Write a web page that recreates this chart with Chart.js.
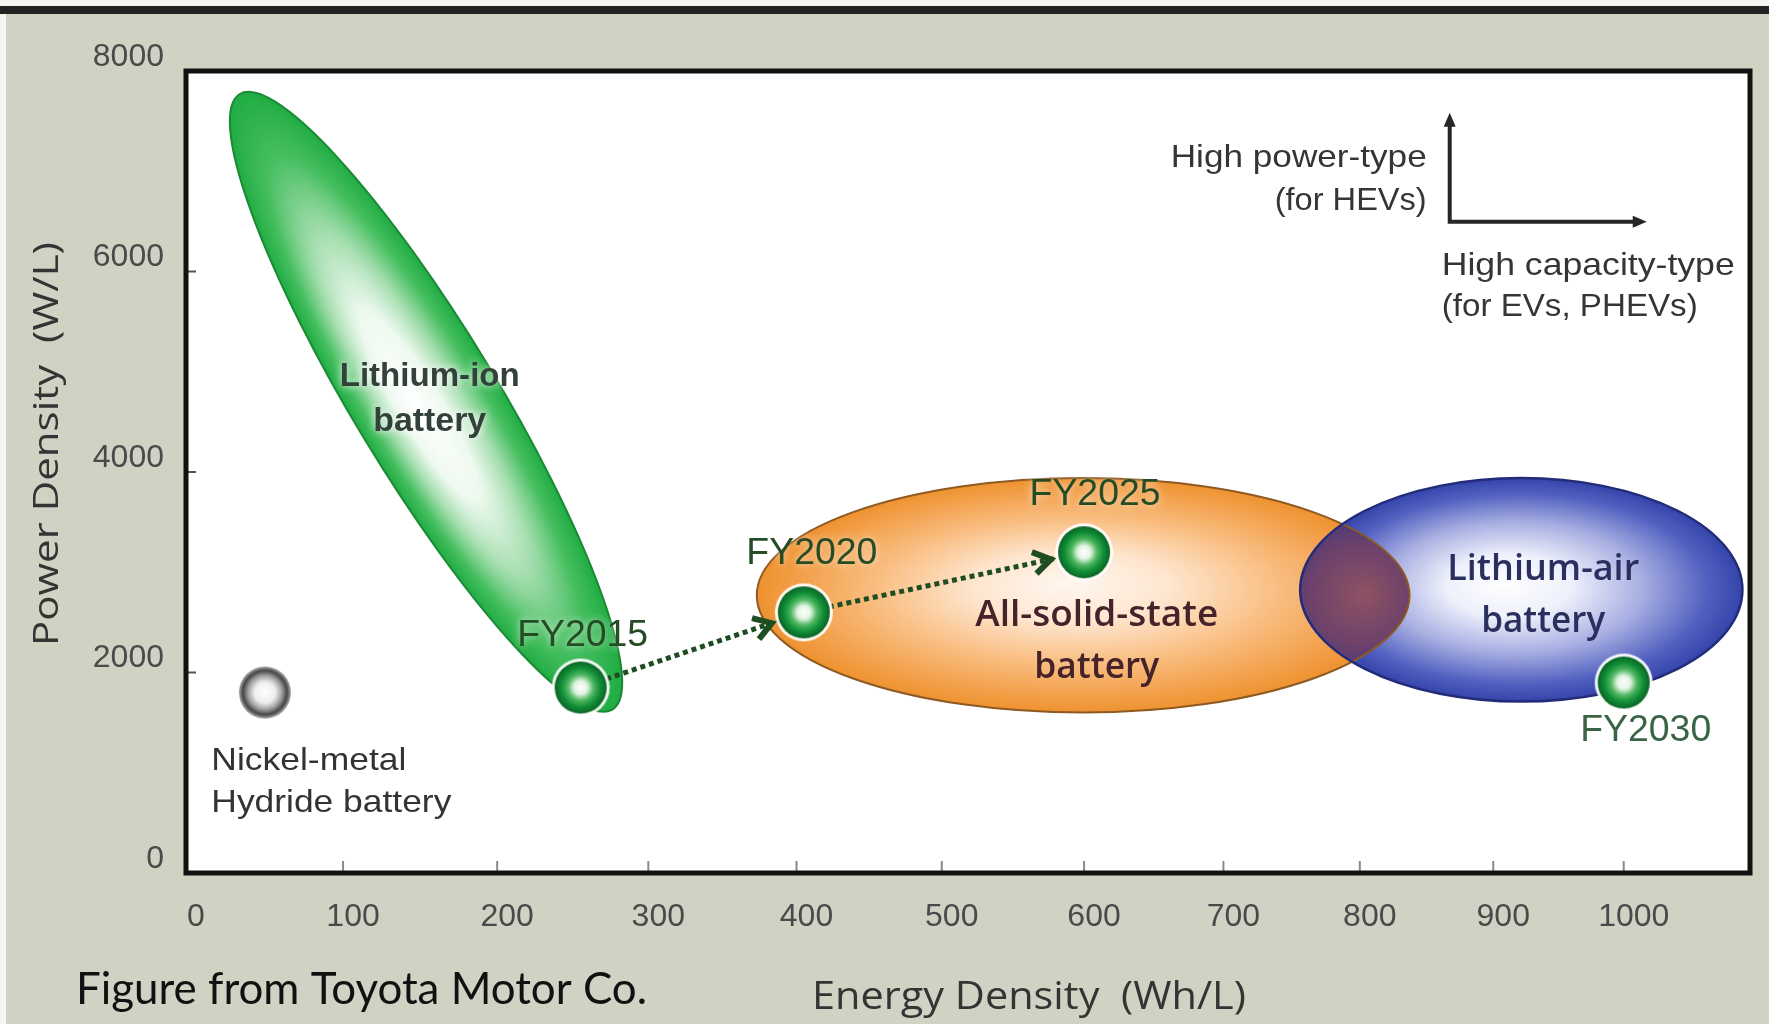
<!DOCTYPE html>
<html>
<head>
<meta charset="utf-8">
<title>Battery energy density vs power density</title>
<script src="https://cdn.jsdelivr.net/npm/chart.js"></script>
<style>
  html, body { margin: 0; padding: 0; background: #cfd3c3; overflow: hidden; }
  canvas { display: block; }
</style>
</head>
<body>
<canvas id="chart" width="1769" height="1024"></canvas>
<script>
// ---- data -------------------------------------------------------------
const xTicks = [0, 100, 200, 300, 400, 500, 600, 700, 800, 900, 1000]; // Wh/L
const yTicks = [0, 2000, 4000, 6000, 8000];                           // W/L
const xMax = 1099;
const yMax = 8000;

// roadmap milestones (energy Wh/L, power W/L)
const milestones = ['FY2015', 'FY2020', 'FY2025', 'FY2030'];
const milestoneEnergy = [255, 405, 600, 1000];
const milestonePower = [1850, 2600, 3200, 1900];
const roadmapSteps = 3; // FY2015 -> FY2020 -> FY2025 joined by arrows

// nickel-metal hydride cell
const nimhEnergy = [50];
const nimhPower = [1800];

// technology regions
const liIonAxisEnergy = [34, 276];   // long-axis end points of the tilted region
const liIonAxisPower = [7770, 1630];
const liIonAspect = 0.2;             // minor / major axis
const solidStateEnergy = [373, 837];
const solidStatePower = [1600, 3940];
const liAirEnergy = [756, 1093];
const liAirPower = [1710, 3940];

// region captions, anchored in data space (energy, power per line)
const captionLiIon = { lines: ['Lithium-ion', 'battery'], x: 156, y: [4950, 4500] };
const captionNimh = { lines: ['Nickel-metal', 'Hydride battery'], x: 16, y: [1120, 700] };
const captionSolid = { lines: ['All-solid-state', 'battery'], x: 609, y: [2570, 2050] };
const captionLiAir = { lines: ['Lithium-air', 'battery'], x: 938, y: [3020, 2510] };

// ---- styling ----------------------------------------------------------
const X_WARP = 0.114;              // gently compressed energy axis (quadratic)
const milestoneLabelDx = [2, 8, 11, 22];
const milestoneLabelDy = [-51, -58, -57, 49];
const milestoneLabelColor = ['#264c25', '#264c25', '#264c25', '#3a6445'];

// energy axis: pixel decimal = (1 + k) t - k t^2, t = linear fraction of the range
class WarpScale extends Chart.LinearScale {
  getPixelForValue(value) {
    if (value === null || value === undefined || isNaN(value)) return NaN;
    const t = (value - this._startValue) / this._valueRange;
    return this.getPixelForDecimal((1 + X_WARP) * t - X_WARP * t * t);
  }
  getValueForPixel(pixel) {
    const d = this.getDecimalForPixel(pixel);
    const k = X_WARP;
    const t = ((1 + k) - Math.sqrt((1 + k) * (1 + k) - 4 * k * d)) / (2 * k);
    return this._startValue + t * this._valueRange;
  }
}
WarpScale.id = 'warp';
WarpScale.defaults = Chart.LinearScale.defaults;
Chart.register(WarpScale);

// glossy round markers used as point styles
function makeMarker(r, ring, stops) {
  const c = document.createElement('canvas');
  const s = Math.ceil((r + ring) * 2 + 4);
  c.width = c.height = s;
  const g = c.getContext('2d');
  const m = s / 2;
  if (ring) {
    g.beginPath();
    g.arc(m, m, r + ring, 0, Math.PI * 2);
    g.fillStyle = 'rgba(255,255,255,0.92)';
    g.fill();
  }
  const grad = g.createRadialGradient(m, m, 0, m, m, r);
  stops.forEach(([o, col]) => grad.addColorStop(o, col));
  g.beginPath();
  g.arc(m, m, r, 0, Math.PI * 2);
  g.fillStyle = grad;
  g.fill();
  return c;
}
const greenMarker = makeMarker(26, 3, [
  [0, '#ffffff'], [0.25, '#e3f5e3'], [0.5, '#4fb660'], [0.74, '#129038'], [1, '#0a6425']
]);
const greyMarker = makeMarker(26, 0, [
  [0, '#ffffff'], [0.4, '#eeeeee'], [0.65, '#a0a0a0'], [0.85, '#454545'], [1, 'rgba(90,90,90,0.55)']
]);

// ---- drawing helpers ---------------------------------------------------
function drawText(ctx, text, x, y, o) {
  ctx.save();
  ctx.font = o.font;
  ctx.fillStyle = o.color;
  ctx.textBaseline = 'middle';
  ctx.textAlign = o.align || 'center';
  const w0 = ctx.measureText(text).width;
  const sx = o.width ? o.width / w0 : 1;
  ctx.translate(x, y);
  if (o.rotate) ctx.rotate(o.rotate);
  ctx.scale(sx, 1);
  if (o.glow) { ctx.shadowColor = o.glow; ctx.shadowBlur = 8; }
  ctx.fillText(text, 0, 0);
  ctx.restore();
}

function fillEllipse(ctx, cx, cy, rx, ry, rot, stops, hx, hy) {
  ctx.save();
  ctx.translate(cx, cy);
  ctx.rotate(rot);
  ctx.scale(rx, ry);
  const g = ctx.createRadialGradient(hx || 0, hy || 0, 0, 0, 0, 1);
  stops.forEach(([o, col]) => g.addColorStop(o, col));
  ctx.beginPath();
  ctx.arc(0, 0, 1, 0, Math.PI * 2);
  ctx.fillStyle = g;
  ctx.fill();
  ctx.restore();
}

function strokeEllipse(ctx, e, color, width) {
  ctx.save();
  ctx.beginPath();
  ctx.ellipse(e.cx, e.cy, e.rx, e.ry, e.rot, 0, Math.PI * 2);
  ctx.strokeStyle = color;
  ctx.lineWidth = width;
  ctx.stroke();
  ctx.restore();
}

function boxEllipse(xs, ys, energy, power) {
  const x0 = xs.getPixelForValue(energy[0]), x1 = xs.getPixelForValue(energy[1]);
  const y0 = ys.getPixelForValue(power[0]), y1 = ys.getPixelForValue(power[1]);
  return { cx: (x0 + x1) / 2, cy: (y0 + y1) / 2, rx: Math.abs(x1 - x0) / 2, ry: Math.abs(y1 - y0) / 2, rot: 0 };
}

// ---- plugins -------------------------------------------------------------
const backdrop = {
  id: 'backdrop',
  beforeDraw(chart) {
    const { ctx, width, height, chartArea: a } = chart;
    ctx.save();
    ctx.fillStyle = '#cfd3c3';
    ctx.fillRect(0, 0, width, height);
    ctx.fillStyle = '#f4f4f0';
    ctx.fillRect(0, 0, width, 6);
    ctx.fillRect(0, 0, 6, height);
    ctx.fillStyle = '#232323';
    ctx.fillRect(0, 6, width, 8);
    ctx.fillStyle = '#ffffff';
    ctx.fillRect(a.left, a.top, a.right - a.left, a.bottom - a.top);
    ctx.restore();
  }
};

const regions = {
  id: 'regions',
  beforeDatasetsDraw(chart) {
    const { ctx } = chart;
    const xs = chart.scales.x, ys = chart.scales.y;

    // lithium-ion: tilted region between two end points
    const ax0 = xs.getPixelForValue(liIonAxisEnergy[0]), ay0 = ys.getPixelForValue(liIonAxisPower[0]);
    const ax1 = xs.getPixelForValue(liIonAxisEnergy[1]), ay1 = ys.getPixelForValue(liIonAxisPower[1]);
    const len = Math.hypot(ax1 - ax0, ay1 - ay0);
    const li = { cx: (ax0 + ax1) / 2, cy: (ay0 + ay1) / 2, rx: len / 2, ry: len / 2 * liIonAspect, rot: Math.atan2(ay1 - ay0, ax1 - ax0) };
    fillEllipse(ctx, li.cx, li.cy, li.rx, li.ry, li.rot, [
      [0, '#ffffff'], [0.3, '#eef9ef'], [0.55, '#a5deaf'], [0.8, '#45be5f'], [1, '#20ac43']
    ], 0, 0.15);
    strokeEllipse(ctx, li, '#1b8a34', 2);

    // all-solid-state and lithium-air regions
    const ss = boxEllipse(xs, ys, solidStateEnergy, solidStatePower);
    const la = boxEllipse(xs, ys, liAirEnergy, liAirPower);
    fillEllipse(ctx, ss.cx, ss.cy, ss.rx, ss.ry, 0, [
      [0, '#fff7f0'], [0.3, '#fee6cf'], [0.62, '#f9bd80'], [0.88, '#f29f48'], [1, '#ee9230']
    ], -0.05, -0.1);
    fillEllipse(ctx, la.cx, la.cy, la.rx, la.ry, 0, [
      [0, '#ffffff'], [0.28, '#eef0fb'], [0.58, '#a8afe2'], [0.85, '#5261c0'], [1, '#3544aa']
    ], -0.08, -0.05);

    // overlap of the two regions
    ctx.save();
    ctx.beginPath();
    ctx.ellipse(ss.cx, ss.cy, ss.rx, ss.ry, 0, 0, Math.PI * 2);
    ctx.clip();
    ctx.beginPath();
    ctx.ellipse(la.cx, la.cy, la.rx, la.ry, 0, 0, Math.PI * 2);
    ctx.clip();
    const ox = ((la.cx - la.rx) + (ss.cx + ss.rx)) / 2;
    const og = ctx.createRadialGradient(ox + 10, ss.cy, 0, ox, ss.cy, 95);
    og.addColorStop(0, '#8f5262');
    og.addColorStop(0.5, '#6f426a');
    og.addColorStop(1, '#363785');
    ctx.fillStyle = og;
    ctx.fillRect(ox - 150, ss.cy - 150, 300, 300);
    ctx.restore();

    strokeEllipse(ctx, ss, '#8e5a22', 2);
    strokeEllipse(ctx, la, '#232c78', 2.5);
  }
};

const annotations = {
  id: 'annotations',
  afterDatasetsDraw(chart) {
    const { ctx, chartArea: a } = chart;
    const xs = chart.scales.x, ys = chart.scales.y;

    // arrowheads on the roadmap line
    const pts = chart.getDatasetMeta(2).data;
    for (let i = 1; i < pts.length; i++) {
      const p0 = pts[i - 1], p1 = pts[i];
      const dx = p1.x - p0.x, dy = p1.y - p0.y, l = Math.hypot(dx, dy);
      const ux = dx / l, uy = dy / l;
      const tx = p1.x - ux * 34, ty = p1.y - uy * 34;
      ctx.save();
      ctx.strokeStyle = '#1f4d22';
      ctx.lineWidth = 6;
      ctx.lineJoin = 'miter';
      ctx.beginPath();
      ctx.moveTo(tx - ux * 17 - uy * 11, ty - uy * 17 + ux * 11);
      ctx.lineTo(tx, ty);
      ctx.lineTo(tx - ux * 17 + uy * 11, ty - uy * 17 - ux * 11);
      ctx.stroke();
      ctx.restore();
    }

    // region captions
    const cap = (c, font, color, widths, align, glow) => {
      c.lines.forEach((t, i) => {
        drawText(ctx, t, xs.getPixelForValue(c.x), ys.getPixelForValue(c.y[i]),
          { font, color, width: widths[i], align, glow });
      });
    };
    cap(captionLiIon, 'bold 33px "Liberation Sans"', '#34413a', [180, 113], 'center', 'rgba(255,255,255,0.95)');
    cap(captionNimh, '32px "Liberation Sans"', '#333333', [195, 240], 'left');
    cap(captionSolid, '600 36px "Open Sans"', '#46232a', [243, 125], 'center');
    cap(captionLiAir, '600 36px "Open Sans"', '#29305f', [192, 124], 'center');

    // milestone labels
    const mk = chart.getDatasetMeta(0).data;
    milestones.forEach((m, i) => {
      drawText(ctx, m, mk[i].x + milestoneLabelDx[i], mk[i].y + milestoneLabelDy[i],
        { font: '36px "Liberation Sans"', color: milestoneLabelColor[i], width: 131, glow: 'rgba(255,255,255,0.7)' });
    });

    // plot frame and inward tick marks
    ctx.save();
    ctx.strokeStyle = '#8a8a8a';
    ctx.lineWidth = 2;
    xTicks.slice(1).forEach(v => {
      const px = xs.getPixelForValue(v);
      ctx.beginPath(); ctx.moveTo(px, a.bottom); ctx.lineTo(px, a.bottom - 12); ctx.stroke();
    });
    ctx.strokeStyle = '#555555';
    yTicks.slice(1, -1).forEach(v => {
      const py = ys.getPixelForValue(v);
      ctx.beginPath(); ctx.moveTo(a.left, py); ctx.lineTo(a.left + 10, py); ctx.stroke();
    });
    ctx.strokeStyle = '#111111';
    ctx.lineWidth = 5;
    ctx.strokeRect(a.left, a.top, a.right - a.left, a.bottom - a.top);
    ctx.restore();

    // type key (upper right)
    const kx = a.left + (a.right - a.left) * 0.808;
    const ky = a.top + (a.bottom - a.top) * 0.188;
    const kTop = a.top + (a.bottom - a.top) * 0.052;
    const kEnd = a.left + (a.right - a.left) * 0.934;
    ctx.save();
    ctx.strokeStyle = '#262626';
    ctx.fillStyle = '#262626';
    ctx.lineWidth = 4;
    ctx.beginPath();
    ctx.moveTo(kx, kTop + 10); ctx.lineTo(kx, ky); ctx.lineTo(kEnd - 10, ky);
    ctx.stroke();
    ctx.beginPath();
    ctx.moveTo(kx, kTop); ctx.lineTo(kx - 6, kTop + 14); ctx.lineTo(kx + 6, kTop + 14); ctx.closePath(); ctx.fill();
    ctx.beginPath();
    ctx.moveTo(kEnd, ky); ctx.lineTo(kEnd - 14, ky - 6); ctx.lineTo(kEnd - 14, ky + 6); ctx.closePath(); ctx.fill();
    ctx.restore();
    const kf = '32px "Liberation Sans"';
    drawText(ctx, 'High power-type', kx - 23, ky - 64, { font: kf, color: '#353535', width: 256, align: 'right' });
    drawText(ctx, '(for HEVs)', kx - 23, ky - 21, { font: kf, color: '#353535', width: 152, align: 'right' });
    drawText(ctx, 'High capacity-type', kx - 8, ky + 44, { font: kf, color: '#353535', width: 293, align: 'left' });
    drawText(ctx, '(for EVs, PHEVs)', kx - 8, ky + 85, { font: kf, color: '#353535', width: 256, align: 'left' });

    // axis titles
    drawText(ctx, 'Energy Density  (Wh/L)', (a.left + a.right) / 2 + 61, a.bottom + 125,
      { font: '500 38px "Open Sans"', color: '#343434', width: 434 });
    drawText(ctx, 'Power Density  (W/L)', 48, (a.top + a.bottom) / 2 - 28,
      { font: '500 35px "Open Sans"', color: '#343434', width: 404, rotate: -Math.PI / 2 });

    // source note
    drawText(ctx, 'Figure from Toyota Motor Co.', 76, a.bottom + 117,
      { font: '44px Lato', color: '#111111', width: 571, align: 'left' });
  }
};

// ---- chart ---------------------------------------------------------------
const noEdgePadding = s => { s.paddingLeft = 0; s.paddingRight = 0; s.paddingTop = 0; s.paddingBottom = 0; };

new Chart(document.getElementById('chart'), {
  type: 'scatter',
  data: {
    datasets: [
      {
        label: 'Roadmap milestones',
        data: milestones.map((m, i) => ({ x: milestoneEnergy[i], y: milestonePower[i] })),
        pointStyle: greenMarker,
        pointRadius: 28,
        order: 0
      },
      {
        label: 'Nickel-metal hydride',
        data: nimhEnergy.map((e, i) => ({ x: e, y: nimhPower[i] })),
        pointStyle: greyMarker,
        pointRadius: 28,
        order: 0
      },
      {
        type: 'line',
        label: 'Roadmap',
        data: milestones.slice(0, roadmapSteps).map((m, i) => ({ x: milestoneEnergy[i], y: milestonePower[i] })),
        borderColor: '#1f4d22',
        borderWidth: 5,
        borderDash: [5, 4],
        borderCapStyle: 'butt',
        pointRadius: 0,
        fill: false,
        tension: 0,
        order: 1
      }
    ]
  },
  options: {
    responsive: false,
    animation: false,
    events: [],
    layout: { autoPadding: false, padding: { top: 71, right: 19, left: 0, bottom: 0 } },
    plugins: { legend: { display: false }, tooltip: { enabled: false } },
    scales: {
      x: {
        type: 'warp',
        min: 0,
        max: xMax,
        afterBuildTicks: s => { s.ticks = xTicks.map(v => ({ value: v })); },
        afterFit: s => { s.height = 151; noEdgePadding(s); },
        grid: { display: false, drawTicks: false },
        border: { display: false },
        ticks: {
          autoSkip: false, maxRotation: 0, padding: 25, labelOffset: 10,
          color: '#4a4a4a', font: { family: 'Liberation Sans', size: 32 },
          callback: v => String(v)
        }
      },
      y: {
        type: 'linear',
        min: 0,
        max: yMax,
        afterBuildTicks: s => { s.ticks = yTicks.map(v => ({ value: v })); },
        afterFit: s => { s.width = 186; noEdgePadding(s); },
        grid: { display: false, drawTicks: false },
        border: { display: false },
        ticks: {
          padding: 22, labelOffset: -14,
          color: '#4a4a4a', font: { family: 'Liberation Sans', size: 32 },
          callback: v => String(v)
        }
      }
    }
  },
  plugins: [backdrop, regions, annotations]
});
</script>
</body>
</html>
